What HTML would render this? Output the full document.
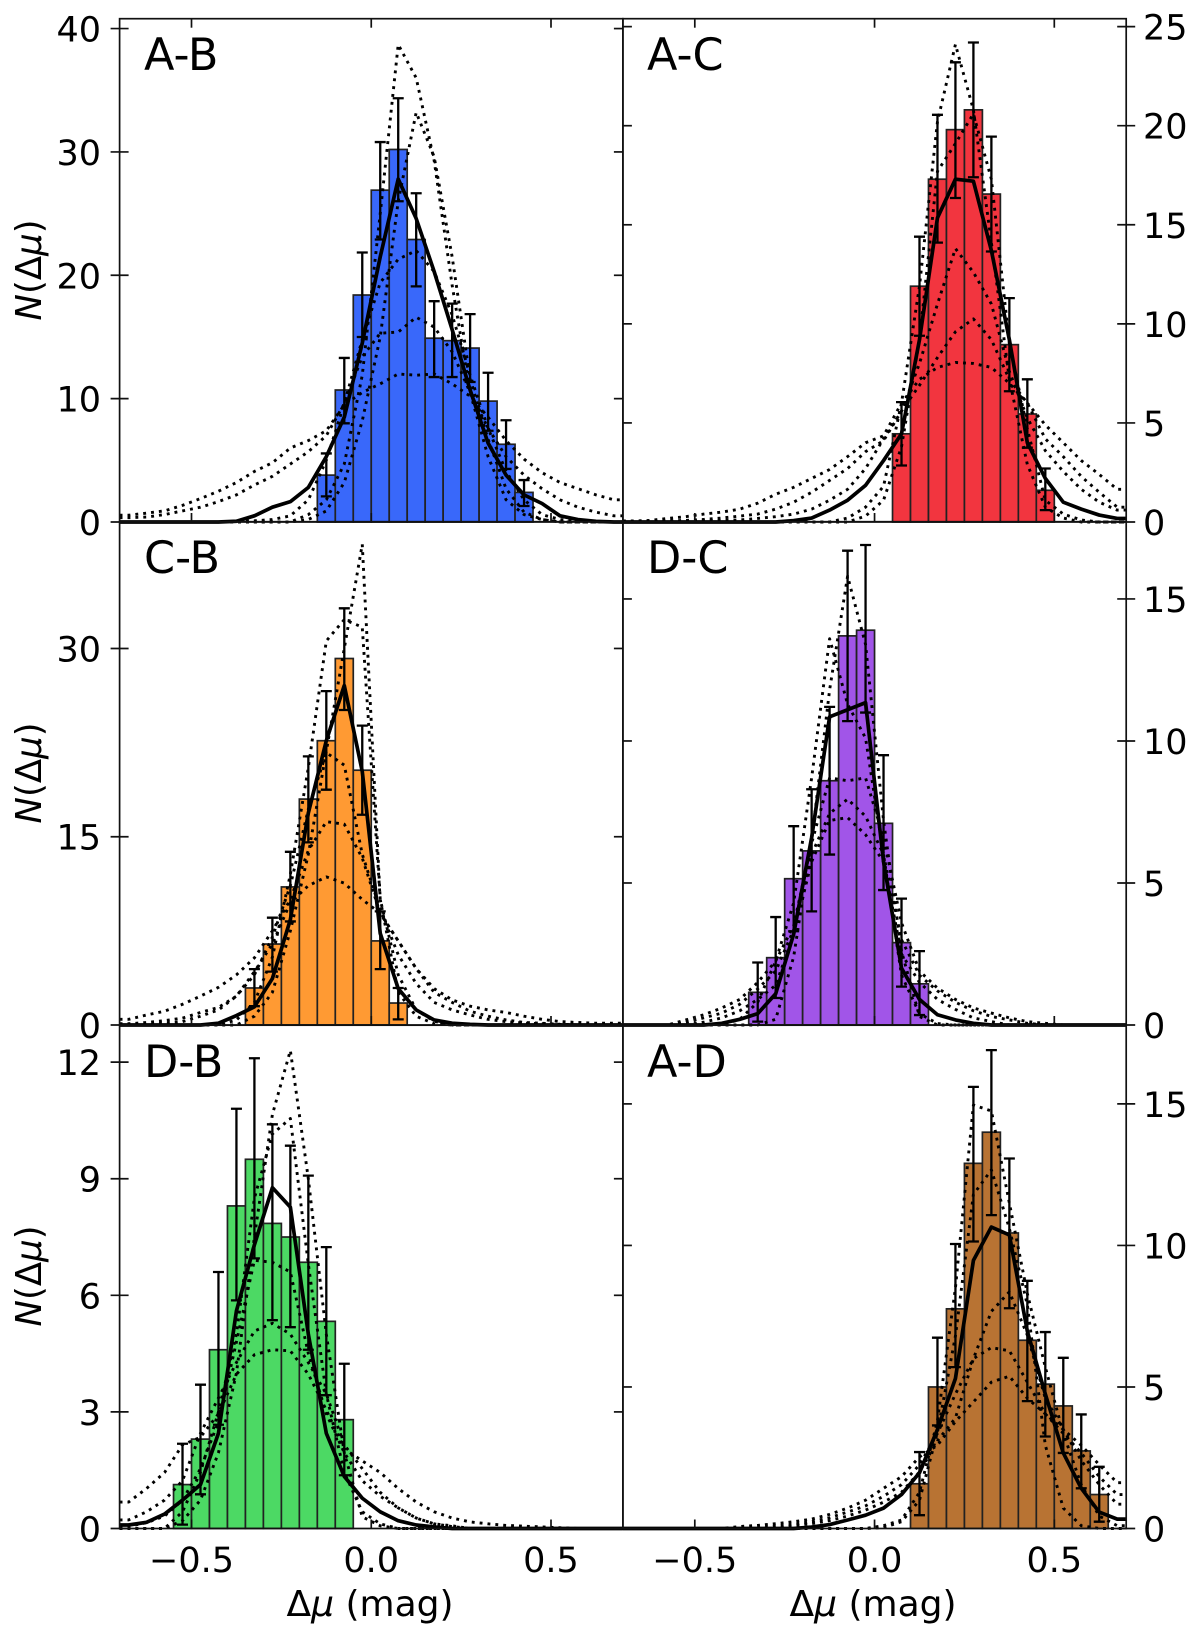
<!DOCTYPE html>
<html lang="en">
<head>
<meta charset="utf-8">
<title>Distance modulus difference histograms</title>
<style>
html,body{margin:0;padding:0;background:#fff;width:1200px;height:1637px;overflow:hidden}
svg{display:block}
text{font-family:"DejaVu Sans","Liberation Sans",sans-serif;fill:#000}
</style>
</head>
<body>
<svg id="figure" xmlns="http://www.w3.org/2000/svg" width="1200" height="1637" viewBox="0 0 1200 1637">
<rect x="0" y="0" width="1200" height="1637" fill="#fff"/>
<g id="panels"></g>
<text x="144" y="70" font-size="44.5">A-B</text>
<text x="647" y="70" font-size="44.5">A-C</text>
<text x="144" y="573" font-size="44.5">C-B</text>
<text x="647" y="573" font-size="44.5">D-C</text>
<text x="144" y="1077" font-size="44.5">D-B</text>
<text x="647" y="1077" font-size="44.5">A-D</text>
<text transform="translate(41,270) rotate(-90)" text-anchor="middle" font-size="35.5"><tspan font-style="italic">N</tspan>(Δ<tspan font-style="italic">μ</tspan>)</text>
<text transform="translate(41,773) rotate(-90)" text-anchor="middle" font-size="35.5"><tspan font-style="italic">N</tspan>(Δ<tspan font-style="italic">μ</tspan>)</text>
<text transform="translate(41,1276) rotate(-90)" text-anchor="middle" font-size="35.5"><tspan font-style="italic">N</tspan>(Δ<tspan font-style="italic">μ</tspan>)</text>
<text x="370" y="1616" text-anchor="middle" font-size="36">Δ<tspan font-style="italic">μ</tspan> (mag)</text>
<text x="873" y="1616" text-anchor="middle" font-size="36">Δ<tspan font-style="italic">μ</tspan> (mag)</text>
</svg>
<script>
const curveGrid = [-0.675,-0.625,-0.575,-0.525,-0.475,-0.425,-0.375,-0.325,-0.275,-0.225,-0.175,-0.125,-0.075,-0.025,0.025,0.075,0.125,0.175,0.225,0.275,0.325,0.375,0.425,0.475,0.525,0.575,0.625,0.675];
const xTickValues = [-0.5,0,0.5];
const xTickLabels = ['\u22120.5','0.0','0.5'];
const binWidth = 0.05;

/* A-B */
const abBinStart = -0.15;
const abBars = [3.8,10.7,18.4,26.9,30.2,22.9,14.9,14.7,14.1,9.8,6.3,2.4];
const abErrHigh = [5.56,13.3,21.85,30.8,34.35,26.65,17.9,17.7,16.85,12.1,8.25,3.4];
const abErrLow = [2.08,8.0,15.0,22.9,26.0,19.1,11.75,11.75,11.35,7.4,4.3,1.3];
const abSolid = [0,0,0,0,0,0,.06,.5,1.2,1.65,2.8,5.3,8.5,14.5,21.5,27.8,24.6,20.3,15.6,10.7,6.4,3.8,2.2,1.5,.5,.2,.05,0];
const abDot1 = [0,0,0,0,0,0,0,0,0,0,.6,1.8,4.7,11.9,25,38.7,36,29.3,19.2,10.5,5.3,1.8,.6,.2,0,0,0,0];
const abDot2 = [0,0,0,0,0,0,0,0,0,0,.2,.9,3.2,8.2,15,26,33.2,29.6,21.5,11.6,6.7,2.7,.8,.2,0,0,0,0];
const abDot3 = [0,0,0,0,0,0,.05,.1,.2,.5,1.8,5,9.6,14.8,19.4,21.3,22,20.3,16.8,11.9,7.6,4.1,1.8,.6,.2,0,0,0];
const abDot4 = [.35,.4,.6,.9,1.2,1.65,2.2,3,3.7,4.7,5.7,7,9.6,13.4,15.3,15.4,16.6,15.8,13.8,10.5,7.6,5.3,3.8,2.7,1.8,1.2,.8,.5];
const abDot5 = [.55,.72,.9,1.35,1.9,2.5,3.2,4.1,4.8,6,6.6,7.4,9.5,10.5,11.2,12,11.9,12,11.2,10.2,8.5,6.6,5.1,4,3.2,2.7,2.2,1.8];
const abYTicks = [0,10,20,30,40];

/* A-C */
const acBinStart = 0.05;
const acBars = [4.45,11.9,17.3,19.8,20.8,16.55,8.95,5.45,1.6];
const acErrHigh = [6.05,14.4,20.55,23.2,24.2,19.45,11.3,7.2,2.7];
const acErrLow = [2.85,9.4,14.1,16.35,17.4,13.65,6.6,3.75,.6];
const acSolid = [0,0,0,0,0,0,0,0,0,.07,.2,.6,1.1,1.85,3.1,4.45,9.2,15.35,17.3,17.2,13.7,9.2,4,2.2,1,.65,.35,.18];
const acDot1 = [0,0,0,0,0,0,0,0,0,0,0,0,.2,.75,1.8,6,11.9,20.2,24.1,20.8,14.1,7.2,2.9,.75,.2,0,0,0];
const acDot2 = [0,0,0,0,0,0,0,0,0,0,0,0,0,.3,1.1,3.8,9.2,17.7,19.1,20.6,17.3,9,4.7,1.1,.4,.1,0,0];
const acDot3 = [0,0,.03,.05,.07,.08,.1,.18,.27,.4,.65,1.1,1.65,2.7,4.2,5.6,8,11,13.8,12.6,11,7.6,5.25,3.6,2.55,1.65,1,.6];
const acDot4 = [.02,.03,.05,.08,.13,.2,.3,.4,.65,1,1.5,2.1,2.7,3.55,4.1,5.6,6.9,8.3,9.6,10.25,9.2,7.2,6,4.2,3.3,2.3,1.5,.75];
const acDot5 = [.05,.08,.18,.27,.4,.5,.65,.95,1.4,1.75,2.2,2.65,3.3,4,4.35,6,7.2,7.8,8.05,8,7.8,7,6,4.9,4,3.1,2.4,1.65];
const acYTicks = [0,5,10,15,20,25];

/* C-B */
const cbBinStart = -0.35;
const cbBars = [2.95,6.45,11,18,22.65,29.2,20.3,6.7,1.75];
const cbErrHigh = [4.45,8.55,13.8,21.4,26.6,33.2,23.85,9.05,2.95];
const cbErrLow = [1.5,4.25,8.25,14.55,18.75,25.1,16.75,4.45,.45];
const cbSolid = [0,0,0,0,0,.14,.75,1.45,3.7,8.4,16.9,22.65,27.05,20.2,7.3,2.9,1.2,.4,.14,.05,0,0,0,0,0,0,0,0];
const cbDot1 = [0,0,0,0,0,0,0,.7,2.6,7.5,13.6,21.8,30,38.3,10,2.6,.7,.1,0,0,0,0,0,0,0,0,0,0];
const cbDot2 = [0,0,0,0,0,0,.4,1.8,5.4,12,20.5,30.6,32.3,31.7,10,4,1.2,.3,0,0,0,0,0,0,0,0,0,0];
const cbDot3 = [.1,.2,.35,.55,1,1.4,2.3,4,7,11.1,17.2,21.7,20.7,13.6,9.2,5.6,3.3,1.8,1.2,.8,.45,.27,.15,.1,.05,0,0,0];
const cbDot4 = [.45,.8,1.1,1.65,2.3,3,4,5.35,7.5,10,13.9,16.2,16,13.3,8.9,6.7,4.5,2.9,2,1.5,1.2,1,.7,.45,.27,.2,.14,.14];
const cbDot5 = [0,0,.14,.27,.7,1.2,2.3,4.25,6.45,9.75,11.1,11.8,11.3,10,8.9,6.7,4.5,2.6,1.8,1.1,.7,.4,.2,.14,.05,0,0,0];
const cbYTicks = [0,15,30];

/* D-C */
const dcBinStart = -0.35;
const dcBars = [1.15,2.37,5.15,6.13,8.6,13.7,13.9,7.1,2.9,1.45];
const dcErrHigh = [2.2,3.8,7,8.3,11.2,16.7,16.9,9.5,4.45,2.6];
const dcErrLow = [.12,.95,3.3,4,6,10.7,11,4.75,1.35,.35];
const dcSolid = [0,0,0,0,0,.06,.2,.4,1.1,3.2,6.6,10.85,11.1,11.35,5.75,2,.9,.36,.18,.06,0,0,0,0,0,0,0,0];
const dcDot1 = [0,0,0,0,0,0,0,0,.2,2.4,6.5,11.8,15.8,13.4,7.2,2.6,.3,0,0,0,0,0,0,0,0,0,0,0];
const dcDot2 = [0,0,0,0,0,0,.2,.8,2.25,4.3,8.7,13.6,11.3,10.1,6,1.75,.4,.05,0,0,0,0,0,0,0,0,0,0];
const dcDot3 = [0,0,0,.18,.36,.6,.9,1.5,2.25,3.5,6.4,8.7,8.6,8.7,6.6,3.6,1.9,1.3,.9,.6,.42,.25,.12,.06,0,0,0,0];
const dcDot4 = [0,0,0,.1,.25,.42,.73,1.27,1.9,3.35,6,7.45,7.95,7.35,6,3,1.75,1.2,.8,.5,.3,.18,.06,0,0,0,0,0];
const dcDot5 = [0,0,0,0,.1,.25,.5,.9,1.4,3.2,5.75,7.2,7.3,6.7,5.75,2.5,1.5,.9,.55,.25,.12,0,0,0,0,0,0,0];
const dcYTicks = [0,5,10,15];

/* D-B */
const dbBinStart = -0.55;
const dbBars = [1.13,2.3,4.6,8.3,9.5,7.85,7.5,6.85,5.33,2.8];
const dbErrHigh = [2.18,3.7,6.6,10.8,12.1,10.4,9.85,9.08,7.24,4.24];
const dbErrLow = [.1,.88,2.67,5.87,6.95,5.36,5.18,4.6,3.43,1.37];
const dbSolid = [.09,.16,.37,.73,1.13,2.45,5.6,7.3,8.77,8.27,5,2.45,1.34,.78,.43,.2,.09,.04,0,0,0,0,0,0,0,0,0,0];
const dbDot1 = [0,0,0,.2,.73,1.95,4,7.5,10.65,12.3,9,5,1.95,.3,.07,0,0,0,0,0,0,0,0,0,0,0,0,0];
const dbDot2 = [0,0,0,.43,1.45,3,5,8.5,10.15,10.55,6.8,3.46,1.44,.43,.12,0,0,0,0,0,0,0,0,0,0,0,0,0];
const dbDot3 = [.05,.15,.32,.73,1.54,2.75,4.8,6.9,6.85,6.6,4.5,2.95,1.95,1.23,.83,.53,.27,.12,.07,0,0,0,0,0,0,0,0,0];
const dbDot4 = [.22,.43,.73,1.23,2.45,3.36,4.27,5.08,5.28,5,4.27,3.46,2.15,1.54,.93,.53,.27,.12,.05,0,0,0,0,0,0,0,0,0];
const dbDot5 = [.68,1.03,1.44,2.15,2.35,2.95,3.97,4.47,4.6,4.57,3.97,3.05,2.05,1.74,1.44,1.03,.68,.43,.27,.17,.12,.08,.06,.04,.02,0,0,0];
const dbYTicks = [0,3,6,9,12];

/* A-D */
const adBinStart = 0.1;
const adBars = [1.58,5,7.76,12.9,14,10.44,6.65,5.1,4.33,2.74,1.2];
const adErrHigh = [2.7,6.74,10.05,15.6,16.9,13.07,8.75,6.94,6.03,4.03,2.18];
const adErrLow = [.47,3.64,5.7,10.14,11.07,7.78,4.5,3.25,2.67,1.42,.24];
const adSolid = [0,0,0,0,0,0,0,0,0,0,.05,.14,.3,.47,.72,1.2,1.97,3.5,5.3,9.47,10.65,10.37,6.97,4.75,2.67,1.42,.58,.33];
const adDot1 = [0,0,0,0,0,0,0,0,0,0,0,0,0,0,.1,.3,1.28,3.8,8.5,14.96,14.75,11.5,8.3,5.7,3.36,1.55,.44,.1];
const adDot2 = [0,0,0,0,0,0,0,0,0,0,0,0,0,0,.03,.24,1,3.4,6.8,11.8,12.67,10.6,7.9,2.94,.72,.1,0,0];
const adDot3 = [0,0,0,0,0,0,0,0,0,.1,.17,.28,.44,.65,.93,1.28,2,3.1,3.9,6,7.67,8.36,6.83,4.6,3.5,2.4,1.55,.86];
const adDot4 = [0,0,0,0,0,0,0,0,.08,.14,.24,.38,.58,.8,1.14,1.55,2.25,3.36,4.75,6,6.39,6.28,5.17,4.05,3.36,2.67,1.83,1.2];
const adDot5 = [0,0,0,0,0,0,.07,.11,.17,.24,.33,.5,.72,1,1.42,1.83,2.53,2.94,3.78,4.47,5.17,5.38,4.6,4.05,3.5,2.94,2.25,1.62];
const adYTicks = [0,5,10,15];

const SVG_NS = 'http://www.w3.org/2000/svg';
const panelsRoot = document.getElementById('panels');
const INK = '#111';

function make(parent, tag, attrs) {
  const el = document.createElementNS(SVG_NS, tag);
  for (const k in attrs) el.setAttribute(k, attrs[k]);
  parent.appendChild(el);
  return el;
}

function drawPanel(p) {
  const sx = v => p.left + (v + 0.7) / 1.4 * p.size;
  const sy = v => p.bottom - v / p.yMax * p.size;
  const g = make(panelsRoot, 'g', {});
  
  

  p.bars.forEach((v, i) => {
    const x0 = sx(p.binStart + i * binWidth);
    const x1 = sx(p.binStart + (i + 1) * binWidth);
    const bar = make(g, 'rect', {x: x0, y: sy(v), width: x1 - x0, height: sy(0) - sy(v), fill: p.color, stroke: '#222', 'stroke-width': 1.7});
    
    
  });

  p.bars.forEach((v, i) => {
    const xc = sx(p.binStart + (i + 0.5) * binWidth);
    const yHi = sy(p.errHigh[i]);
    const yLo = sy(p.errLow[i]);
    const d = 'M' + xc + ' ' + yHi + 'V' + yLo + 'M' + (xc - 5.5) + ' ' + yHi + 'H' + (xc + 5.5) + 'M' + (xc - 5.5) + ' ' + yLo + 'H' + (xc + 5.5);
    const err = make(g, 'path', {d: d, fill: 'none', stroke: '#000', 'stroke-width': 2.3});
    
    
  });

  const curvePath = series => {
    let d = 'M' + sx(-0.7) + ' ' + sy(series[0]);
    series.forEach((v, i) => { d += 'L' + sx(curveGrid[i]) + ' ' + sy(v); });
    d += 'L' + sx(0.7) + ' ' + sy(series[series.length - 1]);
    return d;
  };

  p.dotted.forEach(series => {
    const line = make(g, 'path', {d: curvePath(series), fill: 'none', stroke: '#000', 'stroke-width': 2.9, 'stroke-dasharray': '2.9 5', 'stroke-linejoin': 'round'});
    
    
  });

  const solid = make(g, 'path', {d: curvePath(p.solid), fill: 'none', stroke: '#000', 'stroke-width': 3.7, 'stroke-linejoin': 'round'});
  
  

  const frame = make(g, 'rect', {x: p.left, y: p.bottom - p.size, width: p.size, height: p.size, fill: 'none', stroke: INK, 'stroke-width': 1.7});
  
  

  xTickValues.forEach((v, i) => {
    const xp = sx(v);
    const tick = make(g, 'line', {x1: xp, x2: xp, y1: p.bottom, y2: p.bottom - 9, stroke: INK, 'stroke-width': 1.7});
    
    
    if (p.topTicks) {
      const topTick = make(g, 'line', {x1: xp, x2: xp, y1: p.bottom - p.size, y2: p.bottom - p.size + 9, stroke: INK, 'stroke-width': 1.7});
      
      
    }
    if (p.xLabels) {
      const label = make(g, 'text', {x: xp, y: 1572, 'text-anchor': 'middle', 'font-size': 35});
      
      
      label.textContent = xTickLabels[i];
    }
  });

  p.yTicks.forEach(v => {
    const yp = sy(v);
    const outerX = p.side === 'left' ? p.left : p.left + p.size;
    const innerX = p.side === 'left' ? p.left + p.size : p.left;
    const dirOut = p.side === 'left' ? -1 : 1;
    const outer = make(g, 'line', {x1: outerX + dirOut * 9, x2: outerX - dirOut * 9, y1: yp, y2: yp, stroke: INK, 'stroke-width': 1.7});
    
    
    const inner = make(g, 'line', {x1: innerX, x2: innerX + dirOut * 9, y1: yp, y2: yp, stroke: INK, 'stroke-width': 1.7});
    
    
    const label = make(g, 'text', {
      x: p.side === 'left' ? 101 : 1143,
      y: yp + 13,
      'text-anchor': p.side === 'left' ? 'end' : 'start',
      'font-size': 35
    });
    
    
    label.textContent = String(v);
  });
}

drawPanel({id:'a-b', left:119.6, bottom:522, size:503.3, yMax:40.8, side:'left', topTicks:true, xLabels:false, color:'#3968fa', binStart:abBinStart, bars:abBars, errHigh:abErrHigh, errLow:abErrLow, solid:abSolid, dotted:[abDot1,abDot2,abDot3,abDot4,abDot5], yTicks:abYTicks});
drawPanel({id:'a-c', left:622.9, bottom:522, size:503.3, yMax:25.4, side:'right', topTicks:true, xLabels:false, color:'#f2353f', binStart:acBinStart, bars:acBars, errHigh:acErrHigh, errLow:acErrLow, solid:acSolid, dotted:[acDot1,acDot2,acDot3,acDot4,acDot5], yTicks:acYTicks});
drawPanel({id:'c-b', left:119.6, bottom:1025, size:503.3, yMax:40.1, side:'left', topTicks:false, xLabels:false, color:'#ff9a33', binStart:cbBinStart, bars:cbBars, errHigh:cbErrHigh, errLow:cbErrLow, solid:cbSolid, dotted:[cbDot1,cbDot2,cbDot3,cbDot4,cbDot5], yTicks:cbYTicks});
drawPanel({id:'d-c', left:622.9, bottom:1025, size:503.3, yMax:17.72, side:'right', topTicks:false, xLabels:false, color:'#a155e8', binStart:dcBinStart, bars:dcBars, errHigh:dcErrHigh, errLow:dcErrLow, solid:dcSolid, dotted:[dcDot1,dcDot2,dcDot3,dcDot4,dcDot5], yTicks:dcYTicks});
drawPanel({id:'d-b', left:119.6, bottom:1528.5, size:503.3, yMax:12.95, side:'left', topTicks:false, xLabels:true, color:'#4cd964', binStart:dbBinStart, bars:dbBars, errHigh:dbErrHigh, errLow:dbErrLow, solid:dbSolid, dotted:[dbDot1,dbDot2,dbDot3,dbDot4,dbDot5], yTicks:dbYTicks});
drawPanel({id:'a-d', left:622.9, bottom:1528.5, size:503.3, yMax:17.78, side:'right', topTicks:false, xLabels:true, color:'#b87333', binStart:adBinStart, bars:adBars, errHigh:adErrHigh, errLow:adErrLow, solid:adSolid, dotted:[adDot1,adDot2,adDot3,adDot4,adDot5], yTicks:adYTicks});
</script>
</body>
</html>
